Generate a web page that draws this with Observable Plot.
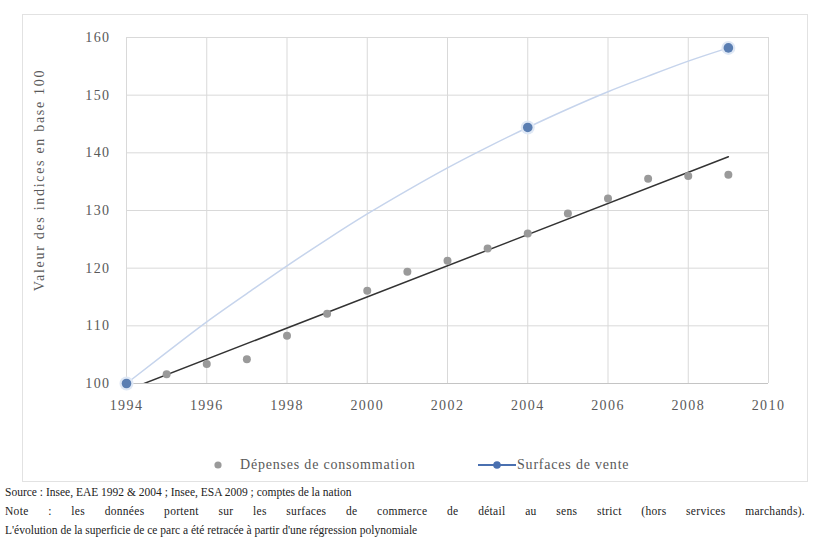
<!DOCTYPE html>
<html><head><meta charset="utf-8">
<script src="https://cdn.jsdelivr.net/npm/d3@7"></script>
<script src="https://cdn.jsdelivr.net/npm/@observablehq/plot@0.6"></script>
<style>
body{margin:0;background:#fff;font-family:"Liberation Serif","DejaVu Serif",serif;}
#wrap{position:relative;width:819px;height:558px;overflow:hidden;}
#chart{position:absolute;left:0;top:0;}
#frame{position:absolute;left:22px;top:14px;width:786px;height:468px;border:1px solid #e2e2e2;box-sizing:border-box;pointer-events:none;}
#ylabel{position:absolute;left:40px;top:180px;transform:translate(-50%,-50%) rotate(-90deg);white-space:nowrap;font-size:14px;letter-spacing:1.7px;color:#595959;}
#legend{position:absolute;top:456px;left:0;width:819px;height:18px;font-size:14px;letter-spacing:0.8px;color:#595959;}
#legend .item{position:absolute;top:0;display:flex;align-items:center;height:18px;white-space:nowrap;}
#caption{position:absolute;left:5px;top:483px;width:800px;font-family:"Liberation Serif",serif;font-size:11.5px;line-height:19px;color:#222;}
#caption div{white-space:nowrap;}
#caption .just{text-align:justify;text-align-last:justify;white-space:normal;letter-spacing:0.3px;}
</style></head><body>
<div id="wrap">
  <div id="chart"></div>
  <div id="frame"></div>
  <div id="ylabel">Valeur des indices en base 100</div>
  <div id="legend"></div>
  <div id="caption">
    <div>Source : Insee, EAE 1992 &amp; 2004 ; Insee, ESA 2009 ; comptes de la nation</div>
    <div class="just">Note : les données portent sur les surfaces de commerce de détail au sens strict (hors services marchands).</div>
    <div>L'évolution de la superficie de ce parc a été retracée à partir d'une régression polynomiale</div>
  </div>
</div>
<script>
// Dépenses de consommation (indices, base 100 en 1994)
const consoYears  = [1994,1995,1996,1997,1998,1999,2000,2001,2002,2003,2004,2005,2006,2007,2008,2009];
const consoValues = [100,101.6,103.4,104.2,108.3,112.1,116.1,119.4,121.3,123.4,126.0,129.5,132.1,135.5,136.0,136.2];

// Surfaces de vente : courbe (régression polynomiale)
const surfYears  = [1994,1995,1996,1997,1998,1999,2000,2001,2002,2003,2004,2005,2006,2007,2008,2009];
const surfValues = [100,105.4,110.7,115.6,120.4,125.0,129.4,133.5,137.4,141.0,144.4,147.6,150.6,153.3,155.9,158.2];

// Points observés (enquêtes)
const surveyYears  = [1994,2004,2009];
const surveyValues = [100,144.4,158.2];

const xTicks = [1994,1996,1998,2000,2002,2004,2006,2008,2010];
const yTicks = [100,110,120,130,140,150,160];

const legendLabels = ["Dépenses de consommation","Surfaces de vente"];

const conso = consoYears.map((x,i)=>({x, y: consoValues[i]}));
const surf = surfYears.map((x,i)=>({x, y: surfValues[i]}));
const survey = surveyYears.map((x,i)=>({x, y: surveyValues[i]}));

const chart = Plot.plot({
  width: 819,
  height: 440,
  marginTop: 37,
  marginLeft: 126,
  marginRight: 51,
  marginBottom: 57,
  style: {fontFamily: "'Liberation Serif', serif", fontSize: "14px", color: "#595959", background: "transparent", letterSpacing: "1.4px"},
  x: {domain: [1994, 2010]},
  y: {domain: [100, 160]},
  marks: [
    Plot.gridX(xTicks, {stroke: "#d9d9d9", strokeOpacity: 1}),
    Plot.gridY(yTicks, {stroke: "#d9d9d9", strokeOpacity: 1}),
    Plot.ruleY([100], {stroke: "#c4c4c4"}),
    Plot.axisX(xTicks, {tickSize: 0, tickPadding: 17, tickFormat: "d", label: null, fill: "#595959"}),
    Plot.axisY(yTicks, {tickSize: 0, tickPadding: 16, label: null, fill: "#595959"}),
    Plot.line(surf, {x: "x", y: "y", curve: "natural", stroke: "#c6d4ec", strokeWidth: 1.5}),
    Plot.linearRegressionY(conso, {x: "x", y: "y", ci: 0, stroke: "#333333", strokeWidth: 1.5, clip: true}),
    Plot.dot(conso, {x: "x", y: "y", r: 4, fill: "#9a9a9a"}),
    Plot.dot(survey, {x: "x", y: "y", r: 7, fill: "#dfe8f5"}),
    Plot.dot(survey, {x: "x", y: "y", r: 4.8, fill: "#5a7eb2"})
  ]
});
document.getElementById("chart").appendChild(chart);

// Légende
const legend = document.getElementById("legend");
const items = [
  {left: 211, svg: '<svg width="16" height="18"><circle cx="7" cy="9" r="3.6" fill="#9a9a9a"/></svg>', gap: 13},
  {left: 477, svg: '<svg width="40" height="18"><line x1="1" y1="9" x2="39" y2="9" stroke="#4a70b0" stroke-width="2.2"/><circle cx="20" cy="9" r="3.8" fill="#4a70b0"/></svg>', gap: 0}
];
items.forEach((it, i) => {
  const d = document.createElement("div");
  d.className = "item";
  d.style.left = it.left + "px";
  d.innerHTML = it.svg + '<span style="margin-left:' + it.gap + 'px">' + legendLabels[i] + '</span>';
  legend.appendChild(d);
});
</script>
</body></html>
